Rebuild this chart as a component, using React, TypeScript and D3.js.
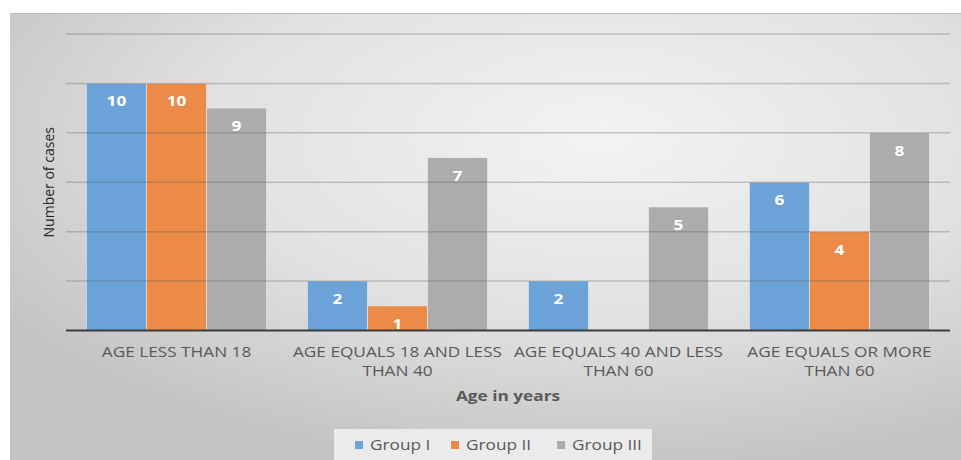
import React from "react";
import * as d3 from "d3";

const categories = [
  "AGE LESS THAN 18",
  "AGE EQUALS 18 AND LESS THAN 40",
  "AGE EQUALS 40 AND LESS THAN 60",
  "AGE EQUALS OR MORE THAN 60",
];
const groups = ["Group I", "Group II", "Group III"];
const groupI = [10, 2, 2, 6];
const groupII = [10, 1, 0, 4];
const groupIII = [9, 7, 5, 8];
const yTicks = [0, 2, 4, 6, 8, 10, 12];

const colors = ["#6ba3d8", "#ec8a47", "#acacac"];
const seriesValues = [groupI, groupII, groupIII];

const W = 961;
const H = 460;
const font = "'Open Sans', 'DejaVu Sans', sans-serif";
const textColor = "#595959";
// the source picture is a bit stretched sideways, so text gets widened too
const SX = 1.23;

// greedy word wrap by characters, like the office chart does
const wrap = (label: string, maxChars: number) => {
  const lines: string[] = [];
  let cur = "";
  label.split(" ").forEach((w) => {
    const next = cur ? cur + " " + w : w;
    if (next.length > maxChars && cur) {
      lines.push(cur);
      cur = w;
    } else cur = next;
  });
  if (cur) lines.push(cur);
  return lines;
};

const at = (x: number, y: number) => `translate(${x},${y}) scale(${SX},1)`;

const App = () => {
  const x0 = d3
    .scaleBand<string>()
    .domain(categories)
    .range([66, 950])
    .paddingInner(0.185)
    .paddingOuter(0.0925);
  const x1 = d3.scaleBand<string>().domain(groups).range([0, x0.bandwidth()]);
  const y = d3.scaleLinear().domain([0, 12]).range([330.5, 34]);

  const legendStart = 355;
  const legendOffsets = groups.reduce<number[]>((acc, g, i) => {
    acc.push(i === 0 ? legendStart : acc[i - 1] + groups[i - 1].length * 10 + 26);
    return acc;
  }, []);

  return (
    <div style={{ position: "absolute", left: 0, top: 0 }}>
      <svg width={W} height={H} style={{ display: "block", background: "#fff" }}>
        <defs>
          <radialGradient id="bg" cx="62%" cy="28%" r="75%">
            <stop offset="0%" stopColor="#f3f3f3" />
            <stop offset="55%" stopColor="#e1e1e1" />
            <stop offset="100%" stopColor="#c3c3c3" />
          </radialGradient>
        </defs>
        <rect x={10} y={13} width={W - 10} height={H - 13} fill="url(#bg)" />
        <line x1={10} x2={W} y1={13.5} y2={13.5} stroke="#bdbdbd" strokeWidth={1} />

        {/* bars */}
        {categories.map((c, ci) => (
          <g key={c} transform={`translate(${x0(c)},0)`}>
            {groups.map((g, gi) => {
              const v = seriesValues[gi][ci];
              if (!v) return null;
              return (
                <rect
                  key={g}
                  x={x1(g)}
                  y={y(v)}
                  width={x1.bandwidth()}
                  height={y(0) - y(v)}
                  fill={colors[gi]}
                  stroke="rgba(255,255,255,0.45)"
                  strokeWidth={1}
                />
              );
            })}
          </g>
        ))}

        {/* gridlines */}
        {yTicks
          .filter((t) => t > 0)
          .map((t) => (
            <line
              key={t}
              x1={66}
              x2={950}
              y1={y(t)}
              y2={y(t)}
              stroke="rgba(90,90,90,0.3)"
              strokeWidth={1.5}
            />
          ))}
        <line x1={66} x2={950} y1={y(0)} y2={y(0)} stroke="#3c3c3c" strokeWidth={2.2} />

        {/* value labels */}
        {categories.map((c, ci) =>
          groups.map((g, gi) => {
            const v = seriesValues[gi][ci];
            if (!v) return null;
            return (
              <text
                key={c + g}
                transform={at((x0(c) as number) + (x1(g) as number) + x1.bandwidth() / 2, y(v) + 23)}
                textAnchor="middle"
                fill="#fff"
                fontFamily={font}
                fontWeight="bold"
                fontSize={14}
              >
                {v}
              </text>
            );
          })
        )}

        {/* x tick labels */}
        {categories.map((c) => (
          <text
            key={c}
            transform={at((x0(c) as number) + x0.bandwidth() / 2, 357)}
            textAnchor="middle"
            fill={textColor}
            fontFamily={font}
            fontSize={14}
          >
            {wrap(c, 22).map((line, li) => (
              <tspan key={li} x={0} dy={li === 0 ? 0 : 19}>
                {line}
              </tspan>
            ))}
          </text>
        ))}

        <text
          transform={at((66 + 950) / 2, 401)}
          textAnchor="middle"
          fill={textColor}
          fontFamily={font}
          fontWeight="bold"
          fontSize={14}
        >
          Age in years
        </text>

        <text
          transform={`translate(54,${(y(0) + y(12)) / 2}) rotate(-90)`}
          textAnchor="middle"
          fill="#262626"
          fontFamily={font}
          fontSize={14}
        >
          Number of cases
        </text>

        {/* legend */}
        <rect x={334} y={429} width={318} height={31} fill="#ebebeb" />
        {groups.map((g, i) => (
          <g key={g}>
            <rect x={legendOffsets[i]} y={441} width={8} height={8} fill={colors[i]} />
            <text
              transform={at(legendOffsets[i] + 15, 450)}
              fill={textColor}
              fontFamily={font}
              fontSize={14}
            >
              {g}
            </text>
          </g>
        ))}
      </svg>
    </div>
  );
};

export default App;
